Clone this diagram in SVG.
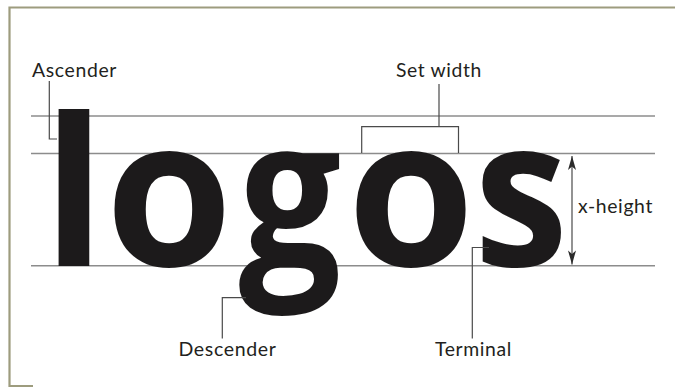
<svg xmlns="http://www.w3.org/2000/svg" width="675" height="387" viewBox="0 0 675 387">
  <style>
    .frame { stroke: #9d9c7e; stroke-width: 2.2; fill: none; }
    .guide { stroke: #8c8c8c; stroke-width: 1.4; fill: none; }
    .leader { stroke: #4a4a4a; stroke-width: 1.2; fill: none; }
    .label { font-family: Lato, "Open Sans", "Liberation Sans", sans-serif; font-size: 18.5px; fill: #231f20; letter-spacing: 0.6px; }
    .big { font-family: "Open Sans", Lato, "Liberation Sans", sans-serif; font-weight: 700; font-size: 206px; fill: #1c1a1b; text-anchor: middle; }
  </style>
  <defs>
    <marker id="head" viewBox="-15 -5 16 10" refX="0" refY="0" markerWidth="16" markerHeight="10" markerUnits="userSpaceOnUse" orient="auto-start-reverse">
      <path d="M0,0 L-14,-4 L-10.5,0 L-14,4 Z" fill="#2a2a2a"/>
    </marker>
  </defs>
  <rect x="0" y="0" width="675" height="387" fill="#ffffff"/>
  <g id="frame">
    <path class="frame" d="M675,7.5 L9.5,7.5 L9.5,386 L33,386"/>
  </g>
  <g id="guides">
    <line class="guide" x1="31" y1="116" x2="655" y2="116"/>
    <line class="guide" x1="31" y1="153.5" x2="655" y2="153.5"/>
    <line class="guide" x1="31" y1="265.7" x2="655" y2="265.7"/>
  </g>
  <g id="word">
    <text class="big" x="74" y="266">l</text>
    <text class="big" x="169" y="266">o</text>
    <text class="big" x="290" y="266" transform="translate(290,0) scale(0.88,1) translate(-290,0)">g</text>
    <text class="big" x="411" y="266">o</text>
    <text class="big" x="521" y="266" transform="translate(521,0) scale(0.92,1) translate(-521,0)">s</text>
  </g>
  <g id="connectors">
    <path class="leader" d="M49.3,81 L49.3,139 L57,139"/>
    <path class="leader" d="M439,84 L439,126.7 M361.7,153 L361.7,126.7 L458.5,126.7 L458.5,153"/>
    <path class="leader" d="M222.3,338.5 L222.3,297.7 L246,297.7"/>
    <path class="leader" d="M472.3,338.5 L472.3,247.5 L489,247.5"/>
    <line class="leader" x1="572" y1="156" x2="572" y2="264.5" stroke="#2a2a2a" marker-start="url(#head)" marker-end="url(#head)"/>
  </g>
  <g id="ascender">
    <text class="label" x="32" y="77" textLength="85" lengthAdjust="spacingAndGlyphs">Ascender</text>
  </g>
  <g id="set-width">
    <text class="label" x="396" y="77" textLength="86" lengthAdjust="spacingAndGlyphs">Set width</text>
  </g>
  <g id="x-height">
    <text class="label" x="578" y="213.3" textLength="75" lengthAdjust="spacingAndGlyphs">x-height</text>
  </g>
  <g id="descender">
    <text class="label" x="178.5" y="356" textLength="98" lengthAdjust="spacingAndGlyphs">Descender</text>
  </g>
  <g id="terminal">
    <text class="label" x="435" y="356" textLength="77" lengthAdjust="spacingAndGlyphs">Terminal</text>
  </g>
</svg>
